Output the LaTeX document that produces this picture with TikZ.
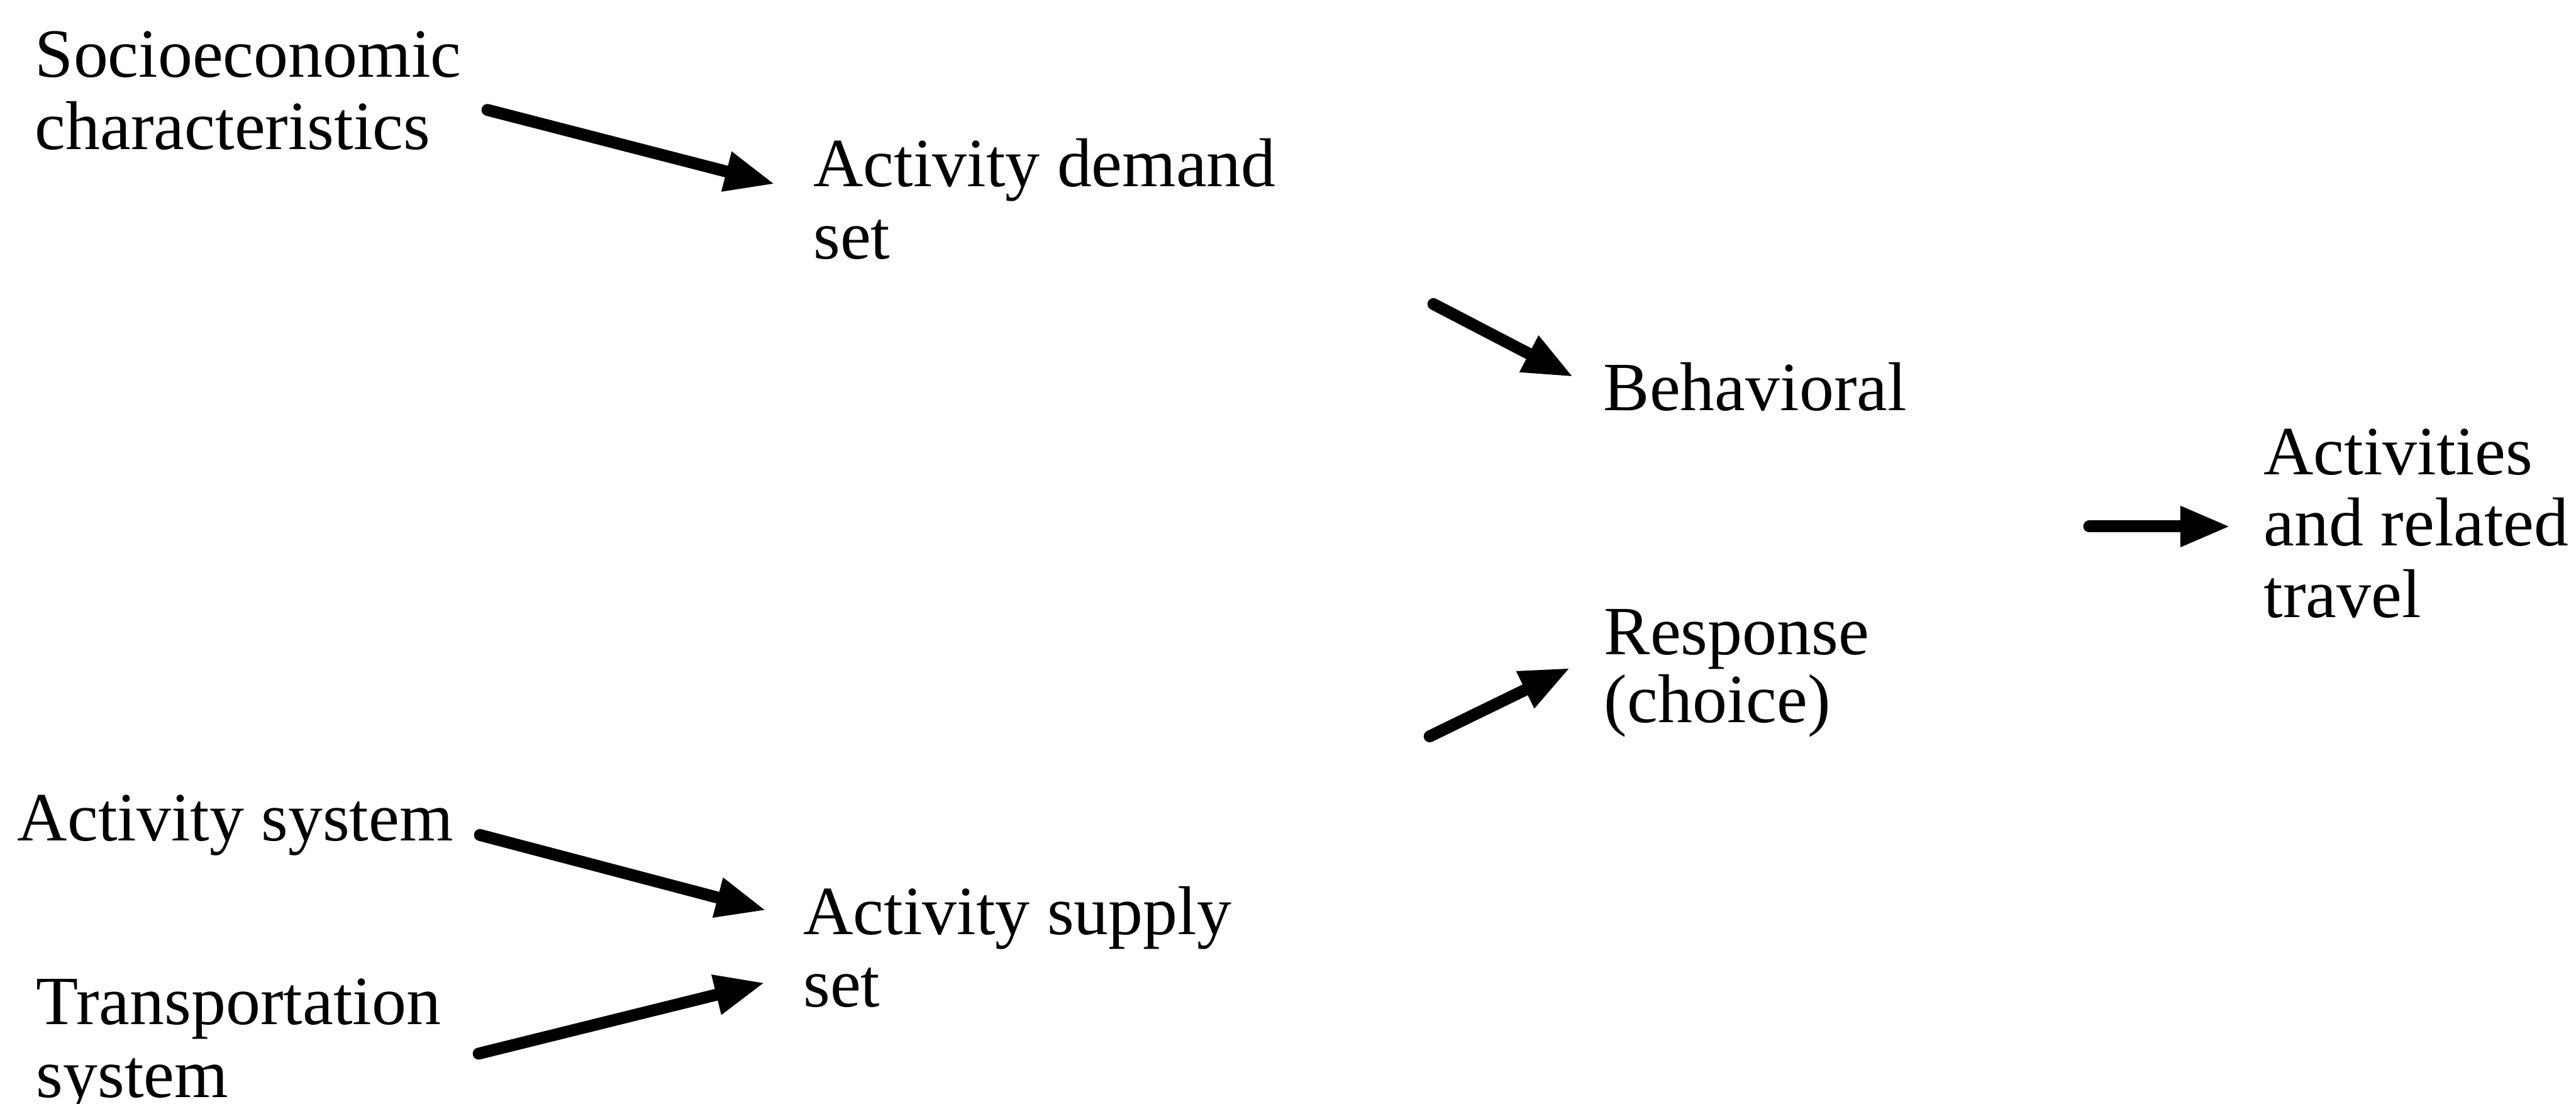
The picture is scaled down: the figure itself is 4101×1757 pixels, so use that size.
\documentclass[tikz,border=0pt]{standalone}
\usepackage{fontspec}
\setmainfont{Liberation Serif}
\usetikzlibrary{arrows.meta}
\begin{document}
\begin{tikzpicture}[x=0.1pt,y=-0.1pt,
  txt/.style={anchor=base west, inner sep=0pt, align=left,
    font=\fontsize{11pt}{11.5pt}\selectfont},
  flow/.style={line width=1.9pt, line cap=round,
    -{Triangle[length=8pt,width=6pt]}}]
\useasboundingbox (0,0) rectangle (4101,1757);

% inputs (multi-line nodes are placed by the baseline of their last line)
\node[txt] (soc) at (54,238) {Socioeconomic\\characteristics};
\node[txt] (asys) at (26,1338) {Activity system};
\node[txt, font=\fontsize{11pt}{11.7pt}\selectfont] (tsys) at (56,1747) {Transportation\\system};

% intermediate sets
\node[txt] (dem) at (1293,412) {Activity demand\\set};
\node[txt] (sup) at (1277,1602) {Activity supply\\set};

% behavioural response
\node[txt] (beh) at (2551,653) {Behavioral};
\node[txt, font=\fontsize{11pt}{10.8pt}\selectfont] (resp) at (2552,1150) {Response\\(choice)};

% outcome
\node[txt, font=\fontsize{11pt}{11.4pt}\selectfont] (act) at (3602,983) {Activities\\and related\\travel};

% arrow end points
\coordinate (s1) at (776,175);   \coordinate (e1) at (1234,293);
\coordinate (s2) at (2282,484);  \coordinate (e2) at (2505,600);
\coordinate (s3) at (2276,1172); \coordinate (e3) at (2500,1063);
\coordinate (s4) at (3326,838);  \coordinate (e4) at (3551,838);
\coordinate (s5) at (764,1329);  \coordinate (e5) at (1220,1449);
\coordinate (s6) at (762,1677);  \coordinate (e6) at (1218,1564);

\draw[flow] (s1) -- (e1);
\draw[flow] (s2) -- (e2);
\draw[flow] (s3) -- (e3);
\draw[flow] (s4) -- (e4);
\draw[flow] (s5) -- (e5);
\draw[flow] (s6) -- (e6);
\end{tikzpicture}
\end{document}
